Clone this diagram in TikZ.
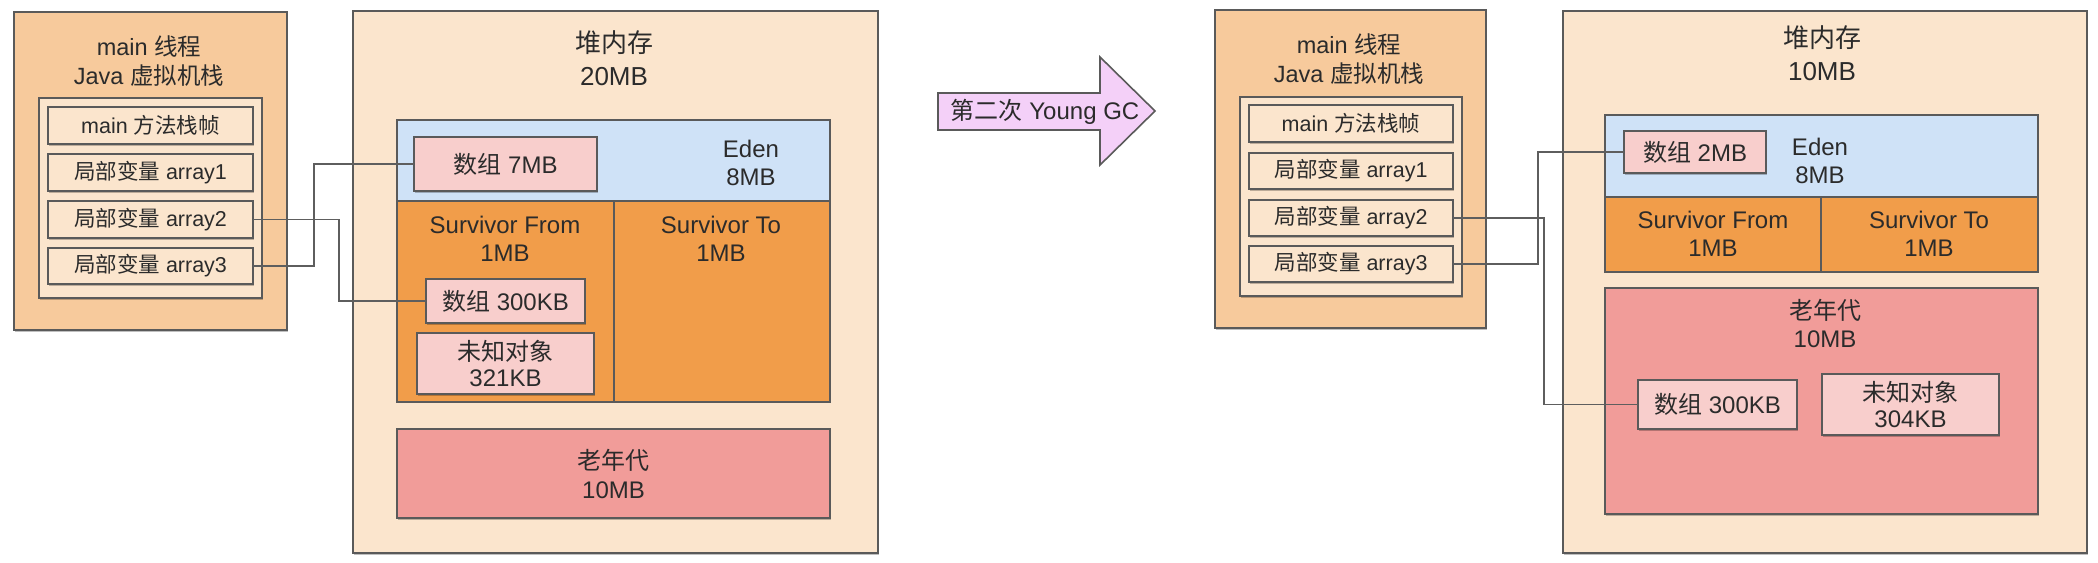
\documentclass[tikz,border=0pt]{standalone}
\usepackage{fontspec}
\setmainfont{Liberation Sans}
\newfontfamily\cjk{Noto Sans CJK SC}
\newcommand\zh[1]{{\cjk #1}}
\usetikzlibrary{shadows}
\definecolor{stackc}{HTML}{F7CA9C}
\definecolor{peach}{HTML}{FBE5CD}
\definecolor{edenc}{HTML}{CFE2F7}
\definecolor{survc}{HTML}{F19D4A}
\definecolor{oldc}{HTML}{F19C99}
\definecolor{objc}{HTML}{F8CECC}
\definecolor{gcc}{HTML}{F4D0F8}
\definecolor{linec}{HTML}{5A5A5A}
\definecolor{connc}{HTML}{5E5E5E}
\definecolor{textc}{HTML}{2B2B2B}
\newcommand\rbox[7]{\node[#2, anchor=north west, minimum width={(#5-#3)*1pt}, minimum height={(#6-#4)*1pt}] (#1) at (#3,#4) {#7};}
\begin{document}
\begin{tikzpicture}[x=1pt,y=-1pt,
  box/.style={draw=linec, line width=1.6pt, rectangle, inner sep=0pt, outer sep=0pt, text=textc, align=center},
  shd/.style={drop shadow={shadow xshift=1pt, shadow yshift=-1.8pt, opacity=0.25, fill=black}},
  stackbox/.style={box, fill=stackc, shd},
  framebox/.style={box, fill=peach, shd},
  rowbox/.style={box, fill=peach, shd, font=\fontsize{21.5}{26}\selectfont},
  heapbox/.style={box, fill=peach, shd},
  edenbox/.style={box, fill=edenc},
  survbox/.style={box, fill=survc},
  oldbox/.style={box, fill=oldc, shd, font=\fontsize{24}{29}\selectfont},
  objbox/.style={box, fill=objc, shd, font=\fontsize{24}{26}\selectfont},
  txt/.style={align=center, inner sep=0pt, text=textc, font=\fontsize{24}{28}\selectfont},
  ttl/.style={align=center, inner sep=0pt, text=textc, font=\fontsize{23.5}{29}\selectfont},
  htl/.style={align=center, inner sep=0pt, text=textc, font=\fontsize{26}{33}\selectfont},
  conn/.style={draw=connc, line width=1.8pt},
  gcarrow/.style={draw=linec, line width=1.6pt, fill=gcc, line join=miter}
]
\useasboundingbox (0,0) rectangle (2098,562);

% ---------- left: before ----------
\rbox{stackL}{stackbox}{14}{12}{287}{330}{}
\node[ttl] (stackLt) at (149,61.5) {main \zh{线程}\\Java \zh{虚拟机栈}};
\rbox{frameL}{framebox}{39}{98}{262}{298}{}
\rbox{r1L}{rowbox}{48}{107}{253}{144}{main \zh{方法栈帧}}
\rbox{r2L}{rowbox}{48}{154}{253}{191}{\zh{局部变量} array1}
\rbox{r3L}{rowbox}{48}{201}{253}{238}{\zh{局部变量} array2}
\rbox{r4L}{rowbox}{48}{248}{253}{284}{\zh{局部变量} array3}

\rbox{heapL}{heapbox}{353}{11}{878}{553}{}
\node[htl] (heapLt) at (614,58.5) {\zh{堆内存}\\20MB};
\rbox{edenL}{edenbox}{397}{120}{830}{201}{}
\node[txt] (edenLt) at (751,163) {Eden\\8MB};
\rbox{a7L}{objbox}{414}{137}{597}{191}{\zh{数组} 7MB}
\rbox{sfL}{survbox}{397}{201}{614}{402}{}
\rbox{stL}{survbox}{614}{201}{830}{402}{}
\node[txt] (sfLt) at (505,239) {Survivor From\\1MB};
\node[txt] (stLt) at (721,239) {Survivor To\\1MB};
\rbox{a300L}{objbox}{426}{279}{585}{323}{\zh{数组} 300KB}
\rbox{unkL}{objbox}{417}{333}{594}{394}{\zh{未知对象}\\321KB}
\rbox{oldL}{oldbox}{397}{429}{830}{518}{\zh{老年代}\\10MB}

% ---------- middle arrow ----------
\draw[gcarrow] (938,93) -- (1100,93) -- (1100,57) -- (1155,111) -- (1100,165) -- (1100,130) -- (938,130) -- cycle;
\node[txt] (gc) at (1045,111.5) {\zh{第二次} Young GC};

% ---------- right: after ----------
\rbox{stackR}{stackbox}{1215}{10}{1486}{328}{}
\node[ttl] (stackRt) at (1349,59) {main \zh{线程}\\Java \zh{虚拟机栈}};
\rbox{frameR}{framebox}{1240}{97}{1462}{296}{}
\rbox{r1R}{rowbox}{1249}{105}{1453}{142}{main \zh{方法栈帧}}
\rbox{r2R}{rowbox}{1249}{153}{1453}{189}{\zh{局部变量} array1}
\rbox{r3R}{rowbox}{1249}{200}{1453}{236}{\zh{局部变量} array2}
\rbox{r4R}{rowbox}{1249}{246}{1453}{282}{\zh{局部变量} array3}

\rbox{heapR}{heapbox}{1563}{11}{2087}{553}{}
\node[htl] (heapRt) at (1822,53) {\zh{堆内存}\\10MB};
\rbox{edenR}{edenbox}{1605}{115}{2038}{197}{}
\node[txt] (edenRt) at (1820,160.5) {Eden\\8MB};
\rbox{a2R}{objbox}{1624}{131}{1766}{173}{\zh{数组} 2MB}
\rbox{sfR}{survbox}{1605}{197}{1821}{272}{}
\rbox{stR}{survbox}{1821}{197}{2038}{272}{}
\node[txt] (sfRt) at (1713,234) {Survivor From\\1MB};
\node[txt] (stRt) at (1929,234) {Survivor To\\1MB};
\rbox{oldR}{oldbox}{1605}{288}{2038}{514}{}
\node[txt] (oldRt) at (1825,323.5) {\zh{老年代}\\10MB};
\rbox{a300R}{objbox}{1638}{380}{1797}{429}{\zh{数组} 300KB}
\rbox{unkR}{objbox}{1822}{374}{1999}{435}{\zh{未知对象}\\304KB}

% ---------- connectors ----------
\draw[conn] (r4L.east) -- ++(61,0) |- (a7L.west);
\draw[conn] (r3L.east) -- ++(86,0) |- (a300L.west);
\draw[conn] (r4R.east) -- ++(85,0) |- (a2R.west);
\draw[conn] (r3R.east) -- ++(91,0) |- (a300R.west);
\end{tikzpicture}
\end{document}
